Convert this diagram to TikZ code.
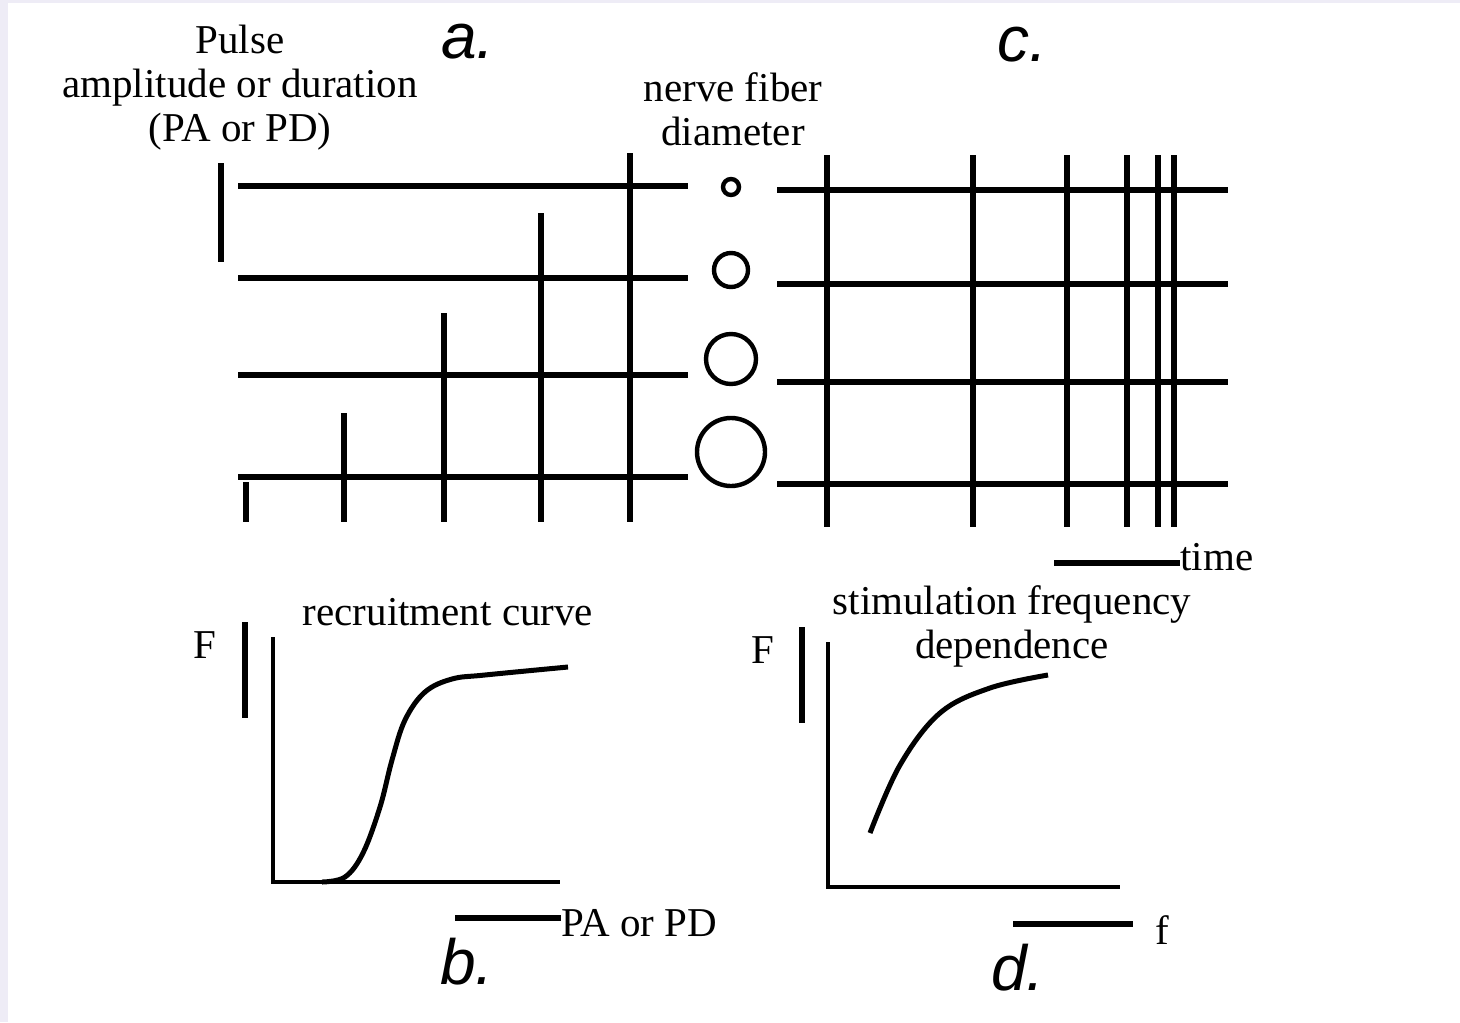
\documentclass[tikz,border=0pt]{standalone}
\usepackage{fontspec}
\setmainfont{Liberation Serif}
\setsansfont{Liberation Sans}
\usetikzlibrary{positioning,calc}
\definecolor{edgebg}{RGB}{238,236,246}
\tikzset{
  pulse/.style={line width=2.7pt,black},
  graphaxis/.style={line width=2.2pt,black},
  fcurve/.style={line width=2.5pt,black},
  fiber/.style={circle,draw=black,line width=2.2pt,inner sep=0pt},
  txt/.style={font=\fontsize{20.5}{22}\selectfont,align=center,inner sep=0pt},
  panel/.style={font=\fontsize{32}{32}\sffamily\itshape,inner sep=0pt},
}

\begin{document}
\begin{tikzpicture}[x=0.5pt,y=-0.5pt]
  % page
  \fill[edgebg] (0,0) rectangle (1460,1022);
  \fill[white] (8,3) rectangle (1460,1022);
  \useasboundingbox (0,0) rectangle (1460,1022);

  % a. pulse amplitude
  \node[txt] (pulselbl) at (240,88) {Pulse\\amplitude or duration\\(PA or PD)};
  \node[panel] (pa) at (468,42) {a.};
  \draw[pulse] (221,163) -- (221,262);
  \foreach \yy in {186,278,375,477}
    \draw[pulse] (238,\yy) -- (688,\yy);
  \foreach \xx/\top in {246/482,344/413,444/313,541/213,630/153}
    \draw[pulse] (\xx,\top) -- (\xx,522);

  % fibers
  \node[txt] (fiberlbl) at (733,109) {nerve fiber\\diameter};
  \foreach \yy/\r/\n in {187/8/1,270/17/2,359/25/3,452/34/4}
    \node[fiber,minimum size=\r pt] (fib\n) at (731,\yy) {};

  % c. stimulation frequency
  \node[panel] (pc) at (1022,45) {c.};
  \foreach \yy in {190,284,382,484}
    \draw[pulse] (777,\yy) -- (1228,\yy);
  \foreach \xx in {827,973,1067,1127,1158,1174}
    \draw[pulse] (\xx,155) -- (\xx,527);
  \coordinate (tbar) at (1054,563);
  \node[txt,anchor=west] (timelbl) at (1180,557) {time};
  \draw[pulse] (tbar) -- (tbar -| timelbl.west);

  % b. recruitment curve
  \node[txt] (fb) at (205,645) {F};
  \draw[pulse] (245,622) -- (245,718);
  \node[txt] (rctitle) at (448,612) {recruitment curve};
  \draw[graphaxis] (273,637) -- (273,882) -- (560,882);
  \draw[fcurve] plot[smooth,tension=0.6] coordinates
    {(322,882) (345,877) (363,853) (380,807) (392,760) (405,720)
     (425,692) (452,679) (485,675) (568,667)};
  \coordinate (pbar) at (455,918);
  \node[txt,anchor=west] (palbl) at (561,923) {PA or PD};
  \draw[pulse] (pbar) -- (pbar -| palbl.west);
  \node[panel] (pb) at (467,962) {b.};

  % d. frequency dependence
  \node[txt] (fd) at (763,650) {F};
  \draw[pulse] (802,627) -- (802,723);
  \node[txt] (sftitle) at (1012,626) {stimulation frequency\\dependence};
  \draw[graphaxis] (828,642) -- (828,887) -- (1120,887);
  \draw[fcurve] plot[smooth,tension=0.6] coordinates
    {(870,833) (900,765) (940,713) (990,688) (1048,675)};
  \coordinate (fbar) at (1013,924);
  \node[txt] (flbl) at (1162,930) {f};
  \draw[pulse] (fbar) -- (1133,924);
  \node[panel] (pd) at (1018,968) {d.};
\end{tikzpicture}
\end{document}
